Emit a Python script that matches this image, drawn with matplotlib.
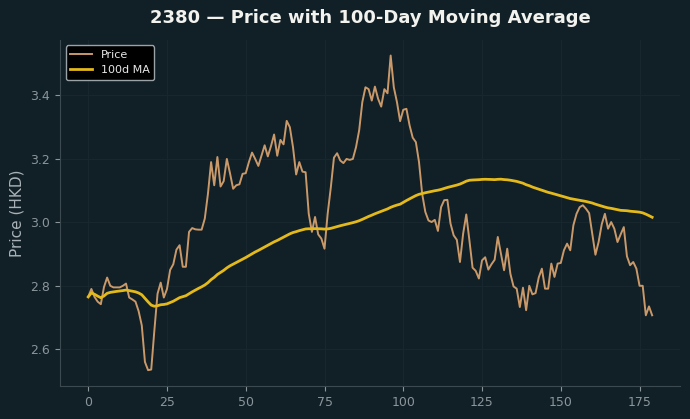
import matplotlib
matplotlib.use("Agg")
import matplotlib.pyplot as plt
import numpy as np
import pandas as pd

title = "2380 — Price with 100-Day Moving Average"
ylabel = "Price (HKD)"
price_label = "Price"
ma_label = "100d MA"
ma_window = 100

price = [
    2.765, 2.79, 2.765, 2.75, 2.742, 2.796, 2.826, 2.80, 2.795, 2.795,
    2.795, 2.80, 2.807, 2.763, 2.757, 2.75, 2.72, 2.675, 2.56, 2.534,
    2.536, 2.66, 2.775, 2.81, 2.763, 2.79, 2.85, 2.868, 2.914, 2.928,
    2.86, 2.86, 2.97, 2.982, 2.978, 2.977, 2.977, 3.012, 3.09, 3.19,
    3.117, 3.206, 3.113, 3.13, 3.20, 3.155, 3.106, 3.117, 3.12, 3.153,
    3.155, 3.19, 3.22, 3.20, 3.178, 3.21, 3.243, 3.208, 3.24, 3.277,
    3.21, 3.26, 3.246, 3.32, 3.30, 3.237, 3.151, 3.19, 3.16, 3.158,
    3.027, 2.97, 3.017, 2.962, 2.949, 2.917, 3.027, 3.11, 3.204, 3.218,
    3.195, 3.187, 3.20, 3.197, 3.20, 3.237, 3.29, 3.379, 3.426, 3.42,
    3.384, 3.428, 3.39, 3.365, 3.42, 3.407, 3.526, 3.426, 3.379, 3.319,
    3.355, 3.358, 3.306, 3.267, 3.253, 3.19, 3.09, 3.033, 3.006, 3.001,
    3.008, 2.973, 3.048, 3.07, 3.071, 2.996, 2.959, 2.945, 2.875, 2.964,
    3.025, 2.943, 2.857, 2.847, 2.823, 2.88, 2.89, 2.851, 2.868, 2.882,
    2.954, 2.901, 2.849, 2.917, 2.838, 2.798, 2.791, 2.733, 2.794, 2.723,
    2.80, 2.773, 2.777, 2.826, 2.854, 2.791, 2.791, 2.87, 2.828, 2.87,
    2.872, 2.912, 2.933, 2.912, 2.991, 3.027, 3.048, 3.054, 3.043, 3.029,
    2.964, 2.898, 2.938, 2.994, 3.027, 2.98, 3.001, 2.98, 2.938, 2.962,
    2.985, 2.893, 2.865, 2.875, 2.854, 2.80, 2.80, 2.707, 2.735, 2.707,
]

days = np.arange(len(price))
ma = pd.Series(price).rolling(ma_window, min_periods=1).mean()

bg = "#111f26"
fig = plt.figure(figsize=(6.9, 4.19), dpi=100, facecolor=bg)
ax = fig.add_axes([0.087, 0.079, 0.899, 0.826])
ax.set_facecolor(bg)

ax.plot(days, price, color="#c9996a", lw=1.4, label=price_label)
ax.plot(days, ma, color="#e3b91c", lw=2.0, label=ma_label)

ax.grid(True, color="#18272e", lw=0.8)
ax.set_axisbelow(True)
for s in ["top", "right"]:
    ax.spines[s].set_visible(False)
for s in ["left", "bottom"]:
    ax.spines[s].set_color("#3c4a50")
ax.tick_params(colors="#8b969b", labelsize=9, length=3.5)
for lbl in ax.get_xticklabels() + ax.get_yticklabels():
    lbl.set_color("#8b969b")
ax.set_xticks([0, 25, 50, 75, 100, 125, 150, 175])
ax.set_yticks([2.6, 2.8, 3.0, 3.2, 3.4])
ax.set_ylabel(ylabel, color="#a9b2b6", fontsize=11)
ax.set_title(title, color="#f2f2ee", fontsize=13, fontweight="bold", pad=12)

leg = ax.legend(loc="upper left", facecolor="#000000", edgecolor="#9aa3a7",
                fontsize=8, framealpha=1.0)
for t in leg.get_texts():
    t.set_color("#e8e8e8")

fig.savefig("out.png", dpi=100, facecolor=bg)
